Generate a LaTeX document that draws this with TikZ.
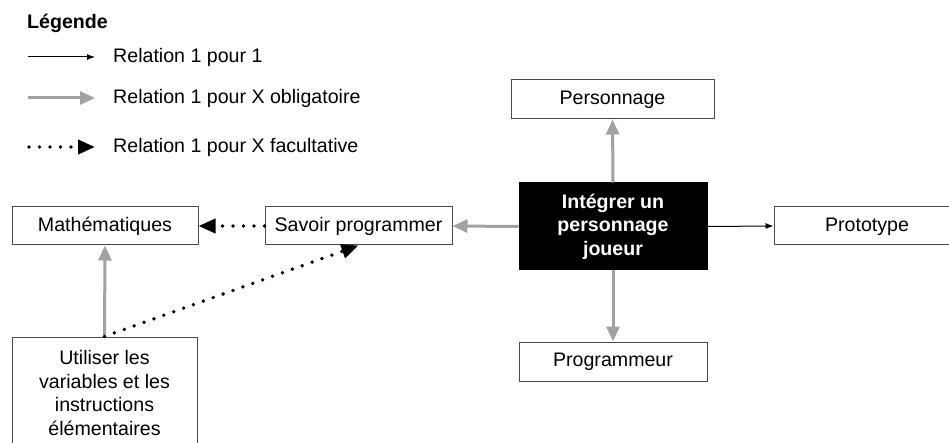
\documentclass[tikz,border=0pt]{standalone}
\usepackage{fontspec}
\setmainfont{Liberation Sans}
\usetikzlibrary{arrows.meta}
\definecolor{arrgray}{HTML}{A2A2A2}
\definecolor{boxline}{HTML}{4A4A4A}
\tikzset{
  txt/.style={font=\fontsize{19.6}{23.4}\selectfont, inner sep=0pt, text=black},
  box/.style={txt, draw=boxline, line width=1pt, fill=white, align=center},
  mainbox/.style={box, fill=black, draw=black, text=white, font=\fontsize{19.6}{23.4}\selectfont\bfseries},
  onearrow/.style={draw=black, line width=1pt, -{Latex[length=8pt,width=6pt]}},
  oblarrow/.style={draw=arrgray, line width=3pt, -{Triangle[length=15pt,width=13pt]}},
  facarrow/.style={draw=black, line width=3.8pt, line cap=round, dash pattern=on 0pt off 10.5pt, -{Triangle[length=17pt,width=14pt,line cap=butt]}},
}
\begin{document}
\begin{tikzpicture}[x=1pt,y=-1pt]
\useasboundingbox (0,0) rectangle (949,443);
% Legend
\node[txt, font=\fontsize{19.6}{23.4}\selectfont\bfseries, anchor=west] (leg) at (27,23) {Légende};
\coordinate (l1a) at (28,57); \coordinate (l1b) at (95,57);
\coordinate (l2a) at (28,98); \coordinate (l2b) at (95,98);
\coordinate (l3a) at (29,147); \coordinate (l3b) at (95,147);
\draw[onearrow] (l1a) -- (l1b);
\draw[oblarrow] (l2a) -- (l2b);
\draw[facarrow] (l3a) -- (l3b);
\node[txt, anchor=west] (t1) at (113,57) {Relation 1 pour 1};
\node[txt, anchor=west] (t2) at (113,98) {Relation 1 pour X obligatoire};
\node[txt, anchor=west] (t3) at (113,147) {Relation 1 pour X facultative};
% Boxes
\node[box, minimum width=203pt, minimum height=39pt] (perso) at (612.5,99.5) {Personnage};
\node[mainbox, minimum width=188pt, minimum height=87pt] (main) at (613,226.5) {Intégrer un\\personnage\\joueur};
\node[box, minimum width=188pt, minimum height=39pt] (prog) at (613,361.5) {Programmeur};
\node[box, minimum width=186pt, minimum height=38pt, text height=14pt, text depth=2pt] (proto) at (867,226) {Prototype};
\node[box, minimum width=187pt, minimum height=38pt] (savoir) at (358.5,226) {Savoir programmer};
\node[box, minimum width=186pt, minimum height=38pt] (math) at (105,226) {Mathématiques};
\node[box, minimum width=185pt, minimum height=116pt] (util) at (104.5,395) {};
\node[txt, align=center] (utiltxt) at (104.5,393) {Utiliser les\\variables et les\\instructions\\élémentaires};
% Connectors
\draw[oblarrow] (main.north) -- (perso.south);
\draw[oblarrow] (main.south) -- (prog.north);
\draw[onearrow] (main.east) -- (proto.west);
\draw[oblarrow] (main.west) -- (savoir.east);
\draw[facarrow] (savoir.west) -- (math.east);
\draw[oblarrow] (util.north) -- (math.south);
\draw[facarrow] (util.north) -- (savoir.south);
\end{tikzpicture}
\end{document}
